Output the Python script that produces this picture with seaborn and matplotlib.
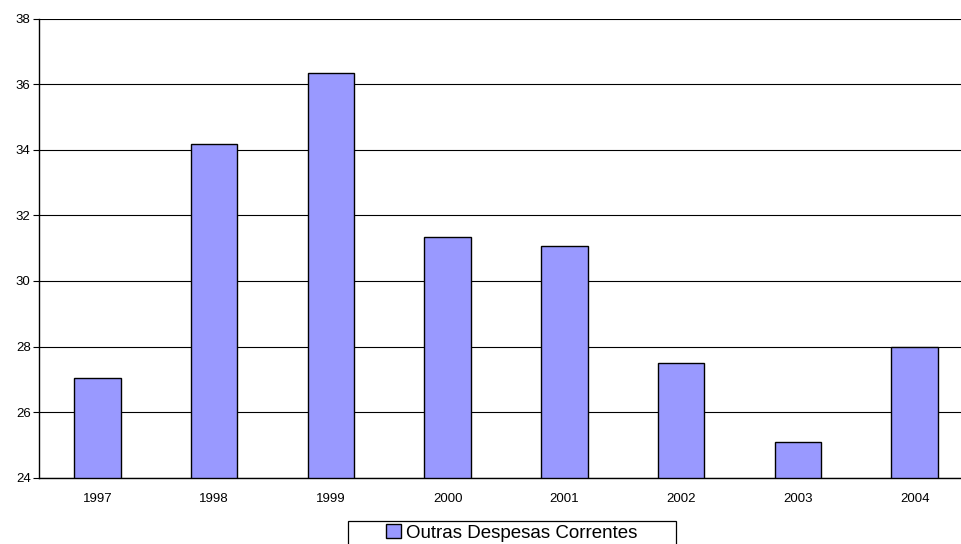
import matplotlib
matplotlib.use("Agg")
import matplotlib.pyplot as plt
import seaborn as sns
import pandas as pd
import numpy as np
from matplotlib.ticker import FixedLocator
from matplotlib.patches import Rectangle

years = ["1997", "1998", "1999", "2000", "2001", "2002", "2003", "2004"]
values = [27.03, 34.18, 36.34, 31.35, 31.07, 27.50, 25.09, 27.98]
series_name = "Outras Despesas Correntes"
y_ticks = [24, 26, 28, 30, 32, 34, 36, 38]

df = pd.DataFrame({"year": years, "value": values, "series": series_name})

sns.set_style("white")
plt.rcParams["font.family"] = ["Liberation Sans", "DejaVu Sans"]
plt.rcParams["text.color"] = "black"
plt.rcParams["xtick.color"] = "black"
plt.rcParams["ytick.color"] = "black"

W, H = 962, 544
fig = plt.figure(figsize=(W / 100, H / 100), dpi=100)
ax = fig.add_axes([39 / W, (H - 477.7) / H, (973 - 39) / W, (477.7 - 18.5) / H])

sns.barplot(data=df, x="year", y="value", hue="series", palette=["#9999FF"],
            saturation=1, width=0.4, edgecolor="black", linewidth=1.0, ax=ax,
            legend=False, dodge=False)

ax.set_ylim(24, 38)
ax.set_xlim(-0.5, len(years) - 0.5)
ax.set_yticks(y_ticks)
ax.set_yticklabels([str(t) for t in y_ticks], fontsize=9.5)
ax.set_xticks(range(len(years)))
ax.set_xticklabels(years, fontsize=9.5)
ax.tick_params(axis="x", which="major", length=0, pad=11)
ax.xaxis.set_minor_locator(FixedLocator(np.arange(-0.5, len(years), 1.0)))
ax.tick_params(axis="x", which="minor", length=4, width=0.8, color="black", direction="out")
ax.tick_params(axis="y", length=4, width=0.8, color="black", direction="out", left=True, pad=2)
ax.set_xlabel("")
ax.set_ylabel("")

ax.grid(axis="y", color="black", linewidth=0.8)
ax.set_axisbelow(True)
for s in ["top", "right"]:
    ax.spines[s].set_visible(False)
for s in ["left", "bottom"]:
    ax.spines[s].set_color("black")
    ax.spines[s].set_linewidth(1.0)

# legend frame box
fig.add_artist(Rectangle((348 / W, (H - 546) / H), (676 - 348) / W, (546 - 520.7) / H,
                         transform=fig.transFigure, facecolor="white",
                         edgecolor="black", linewidth=0.9))
handles = [ax.patches[0]]
leg = fig.legend(handles, [series_name], loc="center", bbox_to_anchor=(512 / W, (H - 533) / H),
                 frameon=False, fontsize=13.5,
                 handlelength=0.75, handleheight=0.75, handletextpad=0.3,
                 borderpad=0.0, borderaxespad=0)

fig.savefig("out.png", dpi=100, facecolor="white")
